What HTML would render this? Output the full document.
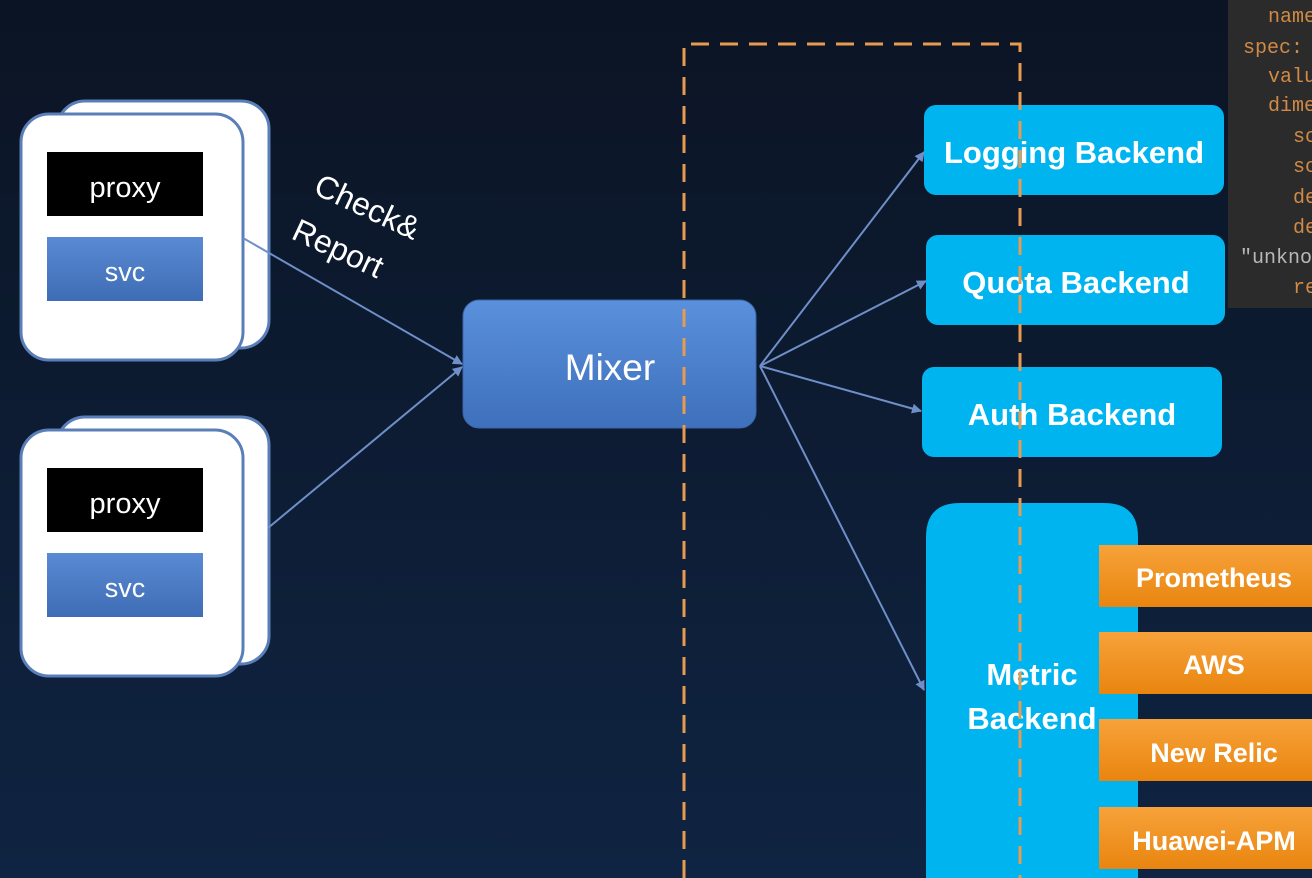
<!DOCTYPE html>
<html><head><meta charset="utf-8"><style>
html,body{margin:0;padding:0;width:1312px;height:878px;overflow:hidden;background:#0c1628}
svg{display:block}
text{font-family:"Liberation Sans","DejaVu Sans",sans-serif}
.code{font-family:"Liberation Mono","DejaVu Sans Mono",monospace;font-size:20px;fill:#d08a45}
</style></head><body>
<svg width="1312" height="878" viewBox="0 0 1312 878" xmlns="http://www.w3.org/2000/svg">
<defs>
<linearGradient id="bg" x1="0" y1="0" x2="0" y2="1">
<stop offset="0" stop-color="#0b1424"/><stop offset="1" stop-color="#0f2442"/></linearGradient>
<linearGradient id="mix" x1="0" y1="0" x2="0" y2="1">
<stop offset="0" stop-color="#5a90dc"/><stop offset="1" stop-color="#3e70bb"/></linearGradient>
<linearGradient id="svc" x1="0" y1="0" x2="0" y2="1">
<stop offset="0" stop-color="#5a8ad4"/><stop offset="1" stop-color="#3e6db5"/></linearGradient>
<linearGradient id="or" x1="0" y1="0" x2="0" y2="1">
<stop offset="0" stop-color="#f7a23a"/><stop offset="1" stop-color="#e9850f"/></linearGradient>
<marker id="ar" markerWidth="10" markerHeight="10" refX="9" refY="5" orient="auto" markerUnits="userSpaceOnUse">
<path d="M0,0 L10,5 L0,10 z" fill="#6e8fc8"/></marker>
</defs>
<rect width="1312" height="878" fill="url(#bg)"/>

<rect x="1228" y="0" width="84" height="308" fill="#2b2b2b"/>
<text class="code" x="1268" y="22">name</text>
<text class="code" x="1243" y="53">spec:</text>
<text class="code" x="1268" y="82">valu</text>
<text class="code" x="1268" y="111">dime</text>
<text class="code" x="1293" y="142">sc</text>
<text class="code" x="1293" y="172">sc</text>
<text class="code" x="1293" y="203">de</text>
<text class="code" x="1293" y="233">de</text>
<text class="code" x="1240" y="263" style="fill:#b8b8b8">″unkno</text>
<text class="code" x="1293" y="293">re</text>

<g>
<rect x="57" y="101" width="212" height="247" rx="28" fill="#fff" stroke="#5a7fb8" stroke-width="3"/>
<rect x="21" y="114" width="222" height="246" rx="28" fill="#fff" stroke="#5a7fb8" stroke-width="3"/>
<rect x="47" y="152" width="156" height="64" fill="#000"/>
<text x="125" y="197" font-size="29" fill="#fff" text-anchor="middle">proxy</text>
<rect x="47" y="237" width="156" height="64" fill="url(#svc)"/>
<text x="125" y="281" font-size="27" fill="#fff" text-anchor="middle">svc</text>
</g>
<g transform="translate(0,316)">
<rect x="57" y="101" width="212" height="247" rx="28" fill="#fff" stroke="#5a7fb8" stroke-width="3"/>
<rect x="21" y="114" width="222" height="246" rx="28" fill="#fff" stroke="#5a7fb8" stroke-width="3"/>
<rect x="47" y="152" width="156" height="64" fill="#000"/>
<text x="125" y="197" font-size="29" fill="#fff" text-anchor="middle">proxy</text>
<rect x="47" y="237" width="156" height="64" fill="url(#svc)"/>
<text x="125" y="281" font-size="27" fill="#fff" text-anchor="middle">svc</text>
</g>

<text transform="translate(312,193) rotate(25)" font-size="32" fill="#fff">Check&amp;</text>
<text transform="translate(290,238) rotate(25)" font-size="32" fill="#fff">Report</text>

<line x1="243" y1="238" x2="462" y2="364" stroke="#6e8fc8" stroke-width="2" marker-end="url(#ar)"/>
<line x1="268" y1="528" x2="462" y2="367" stroke="#6e8fc8" stroke-width="2" marker-end="url(#ar)"/>

<rect x="463" y="300" width="293" height="128" rx="16" fill="url(#mix)" stroke="#3a66a8" stroke-width="1"/>
<text x="610" y="380" font-size="37" fill="#fff" text-anchor="middle">Mixer</text>

<g stroke="#6e8fc8" stroke-width="2" marker-end="url(#ar)">
<line x1="760" y1="366" x2="924" y2="152"/>
<line x1="760" y1="366" x2="926" y2="281"/>
<line x1="760" y1="366" x2="921" y2="411"/>
<line x1="760" y1="366" x2="924" y2="690"/>
</g>

<g fill="#00b4f0">
<rect x="924" y="105" width="300" height="90" rx="12"/>
<rect x="926" y="235" width="299" height="90" rx="12"/>
<rect x="922" y="367" width="300" height="90" rx="12"/>
<path d="M926,878 L926,537 Q926,503 960,503 L1104,503 Q1138,503 1138,537 L1138,878 Z"/>
</g>
<g font-size="31" font-weight="bold" fill="#fff" text-anchor="middle">
<text x="1074" y="163">Logging Backend</text>
<text x="1076" y="293">Quota Backend</text>
<text x="1072" y="425">Auth Backend</text>
<text x="1032" y="685">Metric</text>
<text x="1032" y="729">Backend</text>
</g>

<g fill="url(#or)">
<rect x="1099" y="545" width="213" height="62"/>
<rect x="1099" y="632" width="213" height="62"/>
<rect x="1099" y="719" width="213" height="62"/>
<rect x="1099" y="807" width="213" height="62"/>
</g>
<g font-size="27" font-weight="bold" fill="#fff" text-anchor="middle">
<text x="1214" y="587">Prometheus</text>
<text x="1214" y="674">AWS</text>
<text x="1214" y="762">New Relic</text>
<text x="1214" y="850">Huawei-APM</text>
</g>

<path d="M684,878 L684,44 L1020,44 L1020,878" fill="none" stroke="#e89a50" stroke-width="3" stroke-dasharray="18,11"/>
</svg>
</body></html>
